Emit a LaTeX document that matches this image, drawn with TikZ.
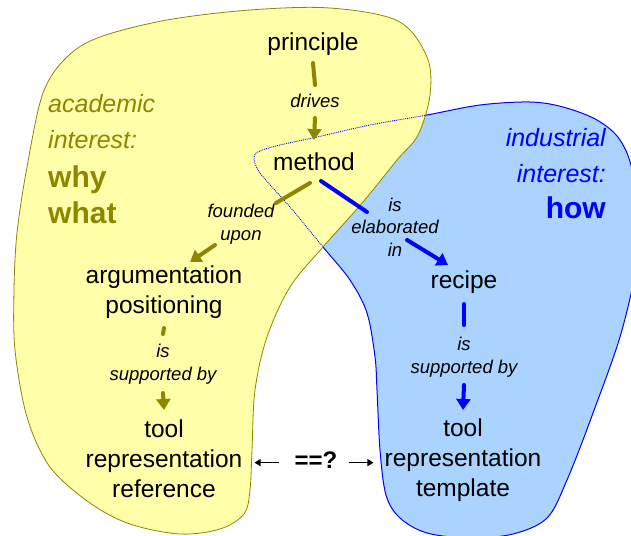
\documentclass[tikz,border=0pt]{standalone}
\usepackage{fontspec}
\setmainfont{Liberation Sans}
\usepackage{xcolor}
\usetikzlibrary{arrows.meta,positioning}
\definecolor{paleyellow}{RGB}{255,255,170}
\definecolor{paleblue}{RGB}{170,212,255}
\tikzset{
  term/.style={font=\fontsize{24.5}{30}\selectfont, align=center, inner sep=0pt, anchor=base},
  rel/.style={font=\fontsize{18.5}{22.5}\selectfont\itshape, align=center, inner sep=0pt, anchor=base},
  oline/.style={draw=olive, line width=4pt, line cap=round},
  bline/.style={draw=blue, line width=4pt, line cap=round},
  oarrow/.style={oline, -{Triangle[width=14pt,length=11pt]}},
  barrow/.style={bline, -{Triangle[width=14pt,length=11pt]}},
  cmparrow/.style={draw=black, line width=1.3pt, -{Triangle[width=7pt,length=6pt]}},
  interest/.style={inner sep=0pt, font=\fontsize{25}{36}\selectfont},
}
\newcommand\yellowblob{plot[smooth cycle, tension=0.55] coordinates {
  (330,8) (398,21) (427,57) (430,95) (418,135) (397,160) (363,202) (323,247)
  (290,287) (267,337) (255,390) (252,450) (250,490) (244,514) (220,529) (180,534)
  (130,524) (90,503) (50,467) (27,417) (15,350) (14,290) (17,233) (27,167)
  (43,93) (67,57) (100,37) (167,20) (250,10)}}
\newcommand\blueblob{plot[smooth cycle, tension=0.55] coordinates {
  (427,115) (480,105) (530,102) (563,107) (597,120) (620,140) (633,175) (638,250)
  (622,330) (593,413) (567,480) (547,518) (513,534) (470,538) (427,533) (400,518)
  (386,495) (380,450) (377,390) (375,357) (367,313) (350,280) (323,247) (290,207)
  (260,173) (254,157) (260,151) (280,145) (317,137) (370,125)}}

\begin{document}
\begin{tikzpicture}[x=1pt, y=-1pt]
  \useasboundingbox (0,0) rectangle (631,535);
  % the two areas
  \fill[paleblue] \blueblob;
  \draw[blue, line width=1pt] \blueblob;
  \filldraw[fill=paleyellow, draw=olive, line width=0.8pt] \yellowblob;
  \begin{scope}
    \clip \yellowblob;
    \draw[blue, densely dotted, line width=0.9pt] \blueblob;
  \end{scope}

  \node[interest, anchor=base west, align=left, text=olive] (academic) at (48,223)
    {\itshape academic\\
     \itshape interest:\\[3pt]
     \fontsize{30}{36}\selectfont\bfseries why\\
     \fontsize{30}{36}\selectfont\bfseries what};
  \node[interest, anchor=base east, align=right, text=blue] (industrial) at (606,218)
    {\itshape industrial\\
     \itshape interest:\\
     \fontsize{30}{36}\selectfont\bfseries how};

  \node[term] (principle) at (313,51) {principle};
  \node[rel] (drives) at (315,107) {drives};
  \node[term] (method) at (314,170) {method};
  \node[rel] (founded) at (241,240) {founded\\upon};
  \node[term] (argument) at (164,313) {argumentation\\positioning};
  \node[rel] (supportA) at (163,380) {is\\supported by};
  \node[term] (toolA) at (164,497) {tool\\representation\\reference};
  \node[rel] (elaborated) at (395,256) {is\\elaborated\\in};
  \node[term] (recipe) at (464,288) {recipe};
  \node[rel] (supportB) at (464,373) {is\\supported by};
  \node[term] (toolB) at (463,496) {tool\\representation\\template};
  \node[term, font=\fontsize{24}{30}\selectfont\bfseries] (compare) at (316,468) {==?};

  % academic side
  \draw[oline] ([yshift=-12pt]principle.base) -- ([yshift=22pt]drives.base);
  \draw[oarrow] ([yshift=-11pt]drives.base) -- ([yshift=30pt]method.base);
  \draw[oline] ([xshift=-4pt,yshift=-13pt]method.base) -- ([xshift=35pt,yshift=37pt]founded.base);
  \draw[oarrow] ([xshift=-26pt,yshift=-5pt]founded.base) -- ([xshift=26pt,yshift=51pt]argument.base);
  \draw[oline] ([yshift=-15pt]argument.base) -- ([yshift=46pt]supportA.base);
  \draw[oarrow] ([yshift=-13pt]supportA.base) -- ([yshift=87pt]toolA.base);
  % industrial side
  \draw[bline] ([xshift=7pt,yshift=-11pt]method.base) -- ([xshift=-28pt,yshift=44pt]elaborated.base);
  \draw[barrow] ([xshift=12pt,yshift=16pt]elaborated.base) -- ([xshift=-16pt,yshift=23pt]recipe.base);
  \draw[bline] ([yshift=-16pt]recipe.base) -- ([yshift=48pt]supportB.base);
  \draw[barrow] ([yshift=-12pt]supportB.base) -- ([yshift=86pt]toolB.base);
  % comparison
  \draw[cmparrow] ([xshift=-15pt,yshift=-3pt]compare.west) -- ([xshift=12pt,yshift=-3pt]compare.west -| toolA.east);
  \draw[cmparrow] ([xshift=11pt,yshift=-3pt]compare.east) -- ([xshift=-11pt,yshift=-3pt]compare.east -| toolB.west);
\end{tikzpicture}
\end{document}
